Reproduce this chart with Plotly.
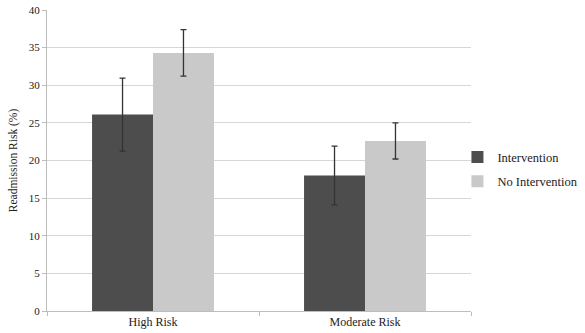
import plotly.graph_objects as go

categories = ["High Risk", "Moderate Risk"]
intervention = [26.1, 18.0]
intervention_err = [4.85, 3.9]
no_intervention = [34.3, 22.6]
no_intervention_err = [3.1, 2.4]

fig = go.Figure()
fig.add_trace(go.Bar(
    x=categories, y=intervention, name="Intervention", legendgroup="a",
    marker=dict(color="#4d4d4d", line=dict(width=0)),
    error_y=dict(type="data", array=intervention_err, color="#333333", thickness=1.3, width=3),
))
fig.add_trace(go.Bar(
    x=categories, y=no_intervention, name="No Intervention", legendgroup="b",
    marker=dict(color="#c9c9c9", line=dict(width=0)),
    error_y=dict(type="data", array=no_intervention_err, color="#333333", thickness=1.3, width=3),
))

fig.update_layout(
    width=585, height=333,
    margin=dict(l=47, r=114, t=10, b=22, autoexpand=False),
    plot_bgcolor="white", paper_bgcolor="white",
    barmode="group", bargap=0.425, bargroupgap=0,
    font=dict(family="Liberation Serif", size=11, color="#222222"),
    legend=dict(x=0.968, y=0.56, xanchor="left", yanchor="top",
                font=dict(size=12.5), itemwidth=30, tracegroupgap=5,
                bgcolor="rgba(0,0,0,0)"),
    showlegend=True,
)
fig.update_yaxes(
    range=[0, 40], dtick=5, showgrid=True, gridcolor="#d6d6d6", gridwidth=1.2,
    showline=True, linecolor="#bdbdbd", linewidth=1,
    ticks="outside", ticklen=4, tickcolor="#bdbdbd",
    title=dict(text="Readmission Risk (%)", font=dict(size=11.5), standoff=8),
    zeroline=False, automargin=False,
)
fig.update_xaxes(
    showline=True, linecolor="#bdbdbd", linewidth=1,
    ticks="outside", tickson="boundaries", ticklen=4, tickcolor="#bdbdbd",
    tickfont=dict(size=12), automargin=False,
)

fig.write_html("out.html")
